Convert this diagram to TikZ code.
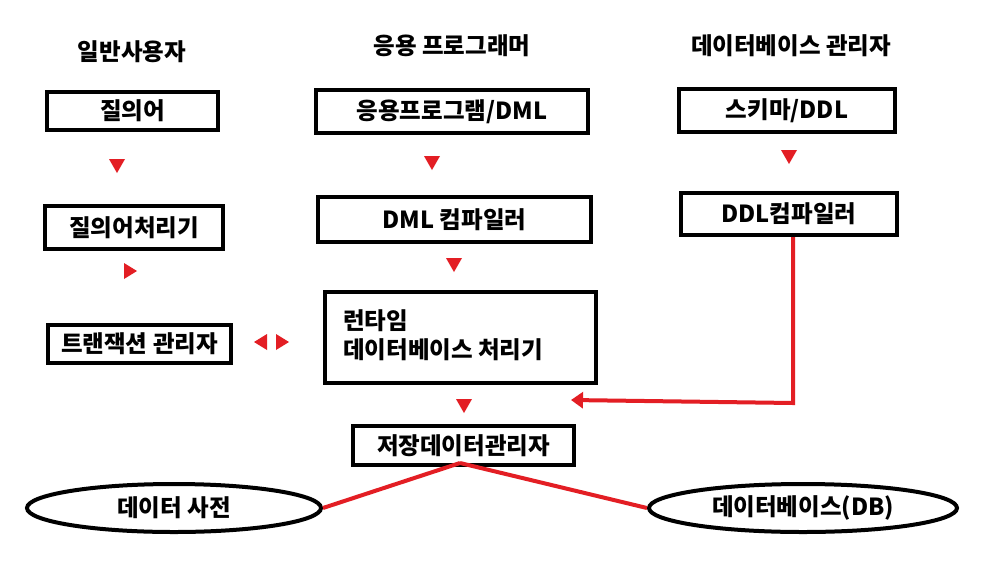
\documentclass[tikz,border=0pt]{standalone}
\usepackage{fontspec}
\newfontfamily\kr{Noto Sans CJK KR}
\usetikzlibrary{arrows.meta,shapes.geometric,calc}
\definecolor{rd}{RGB}{227,30,36}
\begin{document}
\begin{tikzpicture}[x=1pt,y=-1pt,
  txt/.style={font=\kr\bfseries\fontsize{23.5}{26}\selectfont},
  box/.style={txt,draw=black,line width=4pt,inner sep=0pt},
  hdr/.style={txt,inner sep=0pt},
  ell/.style={txt,draw=black,line width=4pt,ellipse,inner sep=0pt},
  tri/.style={fill=rd,draw=none},
  rline/.style={draw=rd,line width=4pt}]
\useasboundingbox[fill=white] (0,0) rectangle (989,566);
% headers
\node[hdr] (h1) at (132,52) {일반사용자};
\node[hdr] (h2) at (452,46) {응용 프로그래머};
\node[hdr] (h3) at (791,46) {데이터베이스 관리자};
% column 1
\node[box,minimum width=171pt,minimum height=38pt] (q) at (132.5,111) {질의어};
\node[box,minimum width=178pt,minimum height=43pt] (qp) at (134,227.5) {질의어처리기};
\node[box,minimum width=183pt,minimum height=38pt] (tm) at (139.5,344) {트랜잭션 관리자};
% column 2
\node[box,minimum width=272pt,minimum height=43pt] (ap) at (452,111.5) {응용프로그램/DML};
\node[box,minimum width=273pt,minimum height=45pt] (dc) at (454.5,219.5) {DML 컴파일러};
\node[box,minimum width=271pt,minimum height=91pt] (rt) at (460.5,337.5) {};
\node[hdr,anchor=west,align=left] (rtt) at (343,335) {런타임\\[3pt]데이터베이스 처리기};
\node[box,minimum width=221pt,minimum height=39pt] (sm) at (463.5,445.5) {저장데이터관리자};
% column 3
\node[box,minimum width=216pt,minimum height=43pt] (sd) at (787,110.5) {스키마/DDL};
\node[box,minimum width=216pt,minimum height=42pt] (ddc) at (789,214) {DDL컴파일러};
% ellipses
\node[ell,minimum width=294pt,minimum height=48pt] (dd) at (174,508) {데이터 사전};
\node[ell,minimum width=308pt,minimum height=48pt] (db) at (803,508) {데이터베이스(DB)};
% triangles
\coordinate (t1) at (117,166);
\coordinate (t2) at (130,271);
\coordinate (t3l) at (261,342);
\coordinate (t3r) at (282,342);
\coordinate (t4) at (432,163);
\coordinate (t5) at (454,265);
\coordinate (t6) at (789,157);
\coordinate (t7) at (464,406);
\foreach \t in {t1,t4,t5,t6,t7}
  \fill[tri] ($(\t)+(-8,-7)$) -- ($(\t)+(8,-7)$) -- ($(\t)+(0,7)$) -- cycle;
\foreach \t in {t2,t3r}
  \fill[tri] ($(\t)+(-6,-8)$) -- ($(\t)+(-6,8)$) -- ($(\t)+(7,0)$) -- cycle;
\fill[tri] ($(t3l)+(6,-8)$) -- ($(t3l)+(6,8)$) -- ($(t3l)+(-7,0)$) -- cycle;
% DDL compiler to runtime
\coordinate (cor) at (793,403);
\coordinate (rend) at (571,400);
\draw[rline,-{Triangle[length=12pt,width=16pt]}] (ddc.south -| cor) -- (cor) -- (rend);
% storage manager to ellipses
\coordinate (smb) at (460,463);
\draw[rline] (smb) -- (dd.east);
\draw[rline] (smb) -- (db.west);
\end{tikzpicture}
\end{document}
